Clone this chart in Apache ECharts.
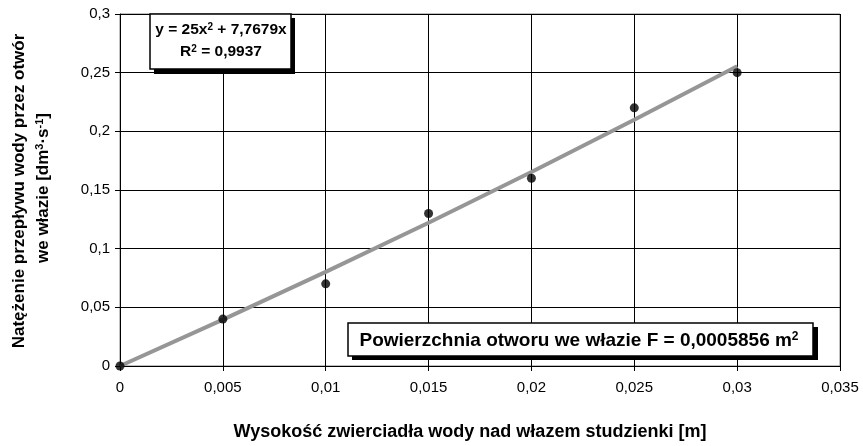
<!DOCTYPE html>
<html>
<head>
<meta charset="utf-8">
<script src="https://cdn.jsdelivr.net/npm/echarts@6/dist/echarts.min.js"></script>
<style>
  html, body { margin: 0; padding: 0; background: #fff; }
  #chart { width: 863px; height: 446px; }
</style>
</head>
<body>
<div id="chart"></div>
<script>
// pomiary
const heights = [0, 0.005, 0.01, 0.015, 0.02, 0.025, 0.03];
const flows = [0, 0.04, 0.07, 0.13, 0.16, 0.22, 0.25];
// linia trendu (y = 25x^2 + 7,7679x)
const trendX = [0, 0.005, 0.01, 0.015, 0.02, 0.025, 0.03];
const trendY = [0, 0.0395, 0.0802, 0.1221, 0.1654, 0.2098, 0.2555];

const xTicks = ['0', '0,005', '0,01', '0,015', '0,02', '0,025', '0,03', '0,035'];
const yTicks = ['0', '0,05', '0,1', '0,15', '0,2', '0,25', '0,3'];

const fnt = 'Liberation Sans, Arial, sans-serif';

const chart = echarts.init(document.getElementById('chart'));

const option = {
  animation: false,
  backgroundColor: '#fff',
  grid: {
    left: 120, top: 14, right: 23, bottom: 80,
    show: true, borderColor: '#808080', borderWidth: 1, backgroundColor: '#fff'
  },
  xAxis: {
    type: 'value',
    min: 0, max: 0.035, interval: 0.005,
    axisLine: { lineStyle: { color: '#000', width: 1 } },
    axisTick: { show: true, length: 5, lineStyle: { color: '#000' } },
    axisLabel: {
      color: '#000', fontFamily: fnt, fontSize: 15, margin: 14,
      formatter: (v) => xTicks[Math.round(v / 0.005)]
    },
    splitLine: { show: true, lineStyle: { color: '#000', width: 1 } }
  },
  yAxis: {
    type: 'value',
    min: 0, max: 0.3, interval: 0.05,
    axisLine: { show: true, lineStyle: { color: '#000', width: 1 } },
    axisTick: { show: true, length: 5, lineStyle: { color: '#000' } },
    axisLabel: {
      color: '#000', fontFamily: fnt, fontSize: 15, margin: 10,
      formatter: (v) => yTicks[Math.round(v / 0.05)]
    },
    splitLine: { show: true, lineStyle: { color: '#000', width: 1 } }
  },
  series: [
    {
      type: 'line',
      data: trendX.map((x, i) => [x, trendY[i]]),
      showSymbol: false,
      symbol: 'none',
      lineStyle: { color: '#969696', width: 4 },
      z: 2
    },
    {
      type: 'scatter',
      data: heights.map((x, i) => [x, flows[i]]),
      symbolSize: 9,
      itemStyle: { color: '#000' },
      z: 3
    }
  ],
  graphic: [
    // ramka z równaniem
    { type: 'rect', shape: { x: 154, y: 18, width: 141, height: 56 }, style: { fill: '#000' }, z: 10 },
    { type: 'rect', shape: { x: 150, y: 14, width: 141, height: 55 }, style: { fill: '#fff', stroke: '#000', lineWidth: 1.5 }, z: 11 },
    {
      type: 'text', x: 221, y: 30, z: 12,
      style: {
        text: '{b|y = 25x}{s|2}{b| + 7,7679x}',
        align: 'center', verticalAlign: 'middle',
        rich: {
          b: { fontFamily: fnt, fontSize: 15.5, fontWeight: 'bold', fill: '#000' },
          s: { fontFamily: fnt, fontSize: 10, fontWeight: 'bold', fill: '#000', padding: [0, 0, 6, 0] }
        }
      }
    },
    {
      type: 'text', x: 221, y: 52, z: 12,
      style: {
        text: '{b|R}{s|2}{b| = 0,9937}',
        align: 'center', verticalAlign: 'middle',
        rich: {
          b: { fontFamily: fnt, fontSize: 15.5, fontWeight: 'bold', fill: '#000' },
          s: { fontFamily: fnt, fontSize: 10, fontWeight: 'bold', fill: '#000', padding: [0, 0, 6, 0] }
        }
      }
    },
    // ramka z powierzchnią otworu
    { type: 'rect', shape: { x: 352, y: 327, width: 466, height: 33 }, style: { fill: '#000' }, z: 10 },
    { type: 'rect', shape: { x: 348, y: 323, width: 465, height: 33 }, style: { fill: '#fff', stroke: '#000', lineWidth: 1.5 }, z: 11 },
    {
      type: 'text', x: 579, y: 341, z: 12,
      style: {
        text: '{b|Powierzchnia otworu we włazie F = 0,0005856 m}{s|2}',
        align: 'center', verticalAlign: 'middle',
        rich: {
          b: { fontFamily: fnt, fontSize: 19, fontWeight: 'bold', fill: '#000' },
          s: { fontFamily: fnt, fontSize: 12, fontWeight: 'bold', fill: '#000', padding: [0, 0, 9, 0] }
        }
      }
    },
    // tytuł osi X
    {
      type: 'text', x: 470, y: 432, z: 12,
      style: {
        text: 'Wysokość zwierciadła wody nad włazem studzienki [m]',
        align: 'center', verticalAlign: 'middle',
        font: 'bold 18px ' + fnt, fill: '#000'
      }
    },
    // tytuł osi Y
    {
      type: 'text', x: 19, y: 191, rotation: Math.PI / 2, z: 12,
      style: {
        text: 'Natężenie przepływu wody przez otwór',
        align: 'center', verticalAlign: 'middle',
        font: 'bold 17px ' + fnt, fill: '#000'
      }
    },
    {
      type: 'text', x: 43, y: 188, rotation: Math.PI / 2, z: 12,
      style: {
        text: '{b|we włazie [dm}{s|3}{b|·s}{s|-1}{b|]}',
        align: 'center', verticalAlign: 'middle',
        rich: {
          b: { fontFamily: fnt, fontSize: 17, fontWeight: 'bold', fill: '#000' },
          s: { fontFamily: fnt, fontSize: 11, fontWeight: 'bold', fill: '#000', padding: [0, 0, 7, 0] }
        }
      }
    }
  ]
};

chart.setOption(option);
</script>
</body>
</html>
